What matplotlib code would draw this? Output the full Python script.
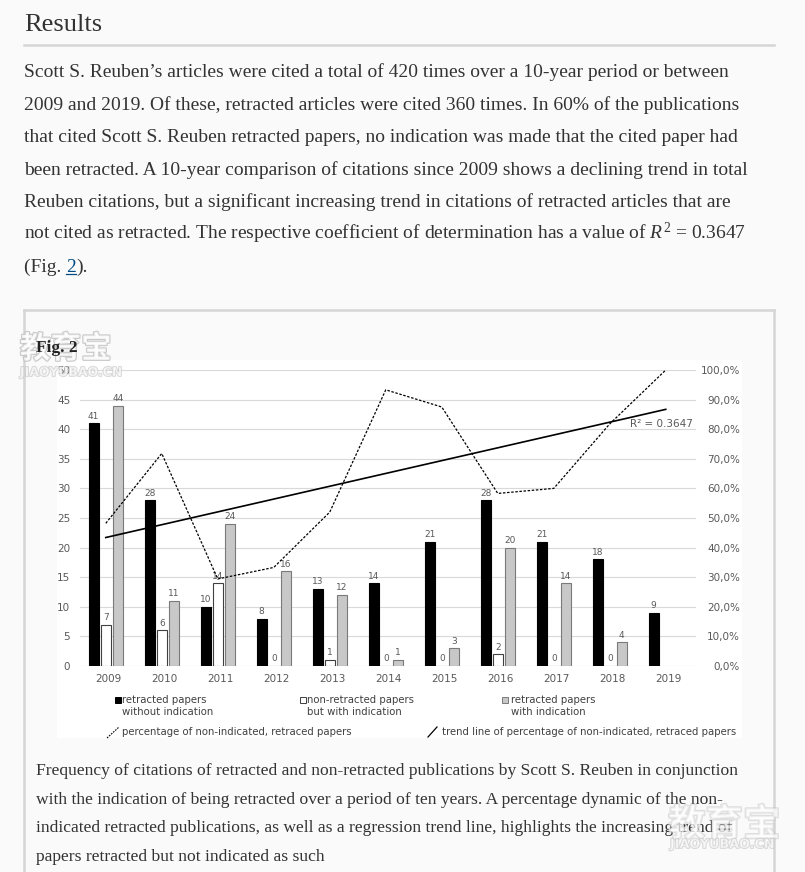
import numpy as np
import matplotlib
matplotlib.use('Agg')
import matplotlib.pyplot as plt
from matplotlib.patches import Rectangle
from matplotlib.lines import Line2D
import matplotlib.patheffects as pe

# ---------------- data ----------------
years = ['2009', '2010', '2011', '2012', '2013', '2014', '2015', '2016', '2017', '2018', '2019']
retracted_without_ind = [41, 28, 10, 8, 13, 14, 21, 28, 21, 18, 9]
nonretracted_with_ind = [7, 6, 14, 0, 1, 0, 0, 2, 0, 0, np.nan]
retracted_with_ind = [44, 11, 24, 16, 12, 1, 3, 20, 14, 4, np.nan]
pct_non_indicated = [48.2, 71.8, 29.4, 33.3, 52.0, 93.3, 87.5, 58.3, 60.0, 81.8, 100.0]
r2_text = 'R² = 0.3647'
left_ticks = [0, 5, 10, 15, 20, 25, 30, 35, 40, 45, 50]
right_ticks = [0, 10, 20, 30, 40, 50, 60, 70, 80, 90, 100]
right_tick_labels = ['0,0%', '10,0%', '20,0%', '30,0%', '40,0%', '50,0%',
                     '60,0%', '70,0%', '80,0%', '90,0%', '100,0%']
legend_labels = ['retracted papers\nwithout indication',
                 'non-retracted papers\nbut with indication',
                 'retracted papers\nwith indication',
                 'percentage of non-indicated, retraced papers',
                 'trend line of percentage of non-indicated, retraced papers']

heading = 'Results'
paragraph = [
    'Scott S. Reuben\u2019s articles were cited a total of 420 times over a 10-year period or between',
    '2009 and 2019. Of these, retracted articles were cited 360 times. In 60% of the publications',
    'that cited Scott S. Reuben retracted papers, no indication was made that the cited paper had',
    'been retracted. A 10-year comparison of citations since 2009 shows a declining trend in total',
    'Reuben citations, but a significant increasing trend in citations of retracted articles that are',
    'not cited as retracted. The respective coefficient of determination has a value of $R^2$ = 0.3647',
]
caption = [
    'Frequency of citations of retracted and non-retracted publications by Scott S. Reuben in conjunction',
    'with the indication of being retracted over a period of ten years. A percentage dynamic of the non-',
    'indicated retracted publications, as well as a regression trend line, highlights the increasing trend of',
    'papers retracted but not indicated as such',
]

# ---------------- figure ----------------
plt.rcParams['mathtext.fontset'] = 'custom'
plt.rcParams['mathtext.rm'] = 'Liberation Serif'
plt.rcParams['mathtext.it'] = 'Liberation Serif:italic'

W, H = 805, 872
fig = plt.figure(figsize=(W / 100, H / 100), dpi=100, facecolor='#fafafa')


def fx(px):
    return px / W


def fy(py):
    return 1 - py / H


SERIF = 'Liberation Serif'
TXT = '#333333'
PFS = 14.0   # paragraph font size
CFS = 12.6   # caption font size

# heading and rule
fig.text(fx(24), fy(31), heading, fontsize=19, family=SERIF, color=TXT, va='baseline')
fig.add_artist(Line2D([fx(24), fx(774)], [fy(45), fy(45)], color='#d5d5d5', lw=1.8))

# paragraph
for i, line in enumerate(paragraph):
    fig.text(fx(24), fy(77 + 32.5 * i), line, fontsize=PFS, family=SERIF, color=TXT, va='baseline')

# "(Fig. 2)." with link
yb = fy(77 + 32.5 * 6)
t1 = fig.text(fx(24), yb, '(Fig. ', fontsize=PFS, family=SERIF, color=TXT, va='baseline')
r = fig.canvas.get_renderer()
bb = t1.get_window_extent(r)
x2 = bb.x1 / W
t2 = fig.text(x2, yb, '2', fontsize=PFS, family=SERIF, color='#004b83', va='baseline')
bb2 = t2.get_window_extent(r)
fig.add_artist(Line2D([bb2.x0 / W, bb2.x1 / W], [yb - 2 / H, yb - 2 / H], color='#004b83', lw=0.9))
fig.text(bb2.x1 / W, yb, ').', fontsize=PFS, family=SERIF, color=TXT, va='baseline')

# figure frame
frame_c = '#d6d6d6'
fig.add_artist(Line2D([fx(24), fx(774)], [fy(310), fy(310)], color=frame_c, lw=1.8))
fig.add_artist(Line2D([fx(24), fx(24)], [fy(310), 0], color=frame_c, lw=1.8))
fig.add_artist(Line2D([fx(774), fx(774)], [fy(310), 0], color=frame_c, lw=1.8))

# white chart image area
fig.add_artist(Rectangle((fx(57), fy(738)), fx(742) - fx(57), fy(360) - fy(738),
                         transform=fig.transFigure, facecolor='white', edgecolor='none', zorder=0))

# caption
for i, line in enumerate(caption):
    fig.text(fx(36), fy(775 + 28.7 * i), line, fontsize=CFS, family=SERIF, color=TXT, va='baseline')

# ---------------- chart ----------------
ax = fig.add_axes([fx(80), fy(666), fx(696) - fx(80), fy(370) - fy(666)])
ax.patch.set_alpha(0)
x = np.arange(len(years))
shift = -0.04
bw = 0.18
off = 0.215
GRAYTXT = '#595959'

series = [
    (retracted_without_ind, -off, dict(facecolor='black', edgecolor='black')),
    (nonretracted_with_ind, 0.0, dict(facecolor='white', edgecolor='#404040')),
    (retracted_with_ind, off, dict(facecolor='#c8c8c8', edgecolor='#7a7a7a')),
]
for vals, o, st in series:
    vals = np.array(vals, dtype=float)
    ax.bar(x + shift + o, vals, width=bw, linewidth=0.8, zorder=2, **st)
    for xi, v in zip(x, vals):
        if np.isnan(v):
            continue
        ax.text(xi + shift + o, v + 1.2, f'{int(v)}', ha='center', va='center',
                fontsize=6.5, color=GRAYTXT, zorder=5)

ax.set_xlim(-0.5, len(years) - 0.5)
ax.set_ylim(0, 50)
ax.set_yticks(left_ticks)
ax.set_xticks(x)
ax.set_xticklabels(years)
ax.tick_params(axis='x', length=0, labelsize=7.5, labelcolor=GRAYTXT, pad=6)
ax.tick_params(axis='y', length=0, labelsize=7.5, labelcolor=GRAYTXT, pad=7)
ax.grid(axis='y', color='#d9d9d9', lw=0.8)
ax.set_axisbelow(True)
for s in ax.spines.values():
    s.set_visible(False)

ax2 = ax.twinx()
ax2.set_ylim(0, 100)
ax2.set_yticks(right_ticks)
ax2.set_yticklabels(right_tick_labels, ha='right')
ax2.tick_params(axis='y', length=0, labelsize=7.5, labelcolor=GRAYTXT, pad=31.7)
for s in ax2.spines.values():
    s.set_visible(False)

ax2.plot(x + shift, pct_non_indicated, color='black', lw=0.9, linestyle=(0, (2, 1.3)), zorder=3)
coef = np.polyfit(x, pct_non_indicated, 1)
ax2.plot(x + shift, np.polyval(coef, x), color='black', lw=1.2, zorder=3)
ax2.text(10.45, 81.8, r2_text, ha='right', va='center', fontsize=7.5, color=GRAYTXT)

# ---------------- legend ----------------
LEG = '#404040'
LFS = 7.3
sq = 5.5
markers = [(115, 'black', 'black'), (300, 'white', '#404040'), (502, '#c8c8c8', '#7a7a7a')]
text_x = [122, 307, 511]
for (mx, fc, ec), tx, lab in zip(markers, text_x, legend_labels[:3]):
    fig.add_artist(Rectangle((fx(mx), fy(700 + sq / 2)), sq / W, sq / H, transform=fig.transFigure,
                             facecolor=fc, edgecolor=ec, lw=0.7))
    fig.text(fx(tx), fy(695), lab, fontsize=LFS, color=LEG, va='top',
             ha='left', linespacing=1.3)

fig.add_artist(Line2D([fx(107), fx(119)], [fy(738), fy(727)], color='black', lw=0.8,
                      linestyle=(0, (1.5, 1))))
fig.text(fx(122), fy(732), legend_labels[3], fontsize=LFS, color=LEG, va='center')
fig.add_artist(Line2D([fx(428), fx(437)], [fy(737), fy(727)], color='black', lw=0.9))
fig.text(fx(442), fy(732), legend_labels[4], fontsize=LFS, color=LEG, va='center')

# ---------------- watermark ----------------
wm = [pe.Stroke(linewidth=1.6, foreground='#bdbdbd'), pe.Normal()]
wm2 = [pe.Stroke(linewidth=1.2, foreground='#bdbdbd'), pe.Normal()]
fig.text(fx(20), fy(358), '教育宝', fontsize=22, family='Noto Sans CJK SC', weight='bold',
         color='white', va='baseline', path_effects=wm, alpha=0.8, zorder=2)
fig.text(fx(20), fy(376), 'JIAOYUBAO.CN', fontsize=9, weight='bold', color='white',
         va='baseline', path_effects=wm2, alpha=0.6, zorder=6)
fig.text(fx(668), fy(836), '教育宝', fontsize=27, family='Noto Sans CJK SC', weight='bold',
         color='white', va='baseline', path_effects=wm, alpha=0.45, zorder=6)
fig.text(fx(670), fy(848), 'JIAOYUBAO.CN', fontsize=9.2, weight='bold', color='white',
         va='baseline', path_effects=wm2, alpha=0.6, zorder=6)

# figure label drawn above the top-left watermark
fig.text(fx(36), fy(352), 'Fig. 2', fontsize=12.5, family=SERIF, weight='bold', color='#222222',
         va='baseline', zorder=7)

fig.savefig('out.png', dpi=100, facecolor=fig.get_facecolor())
